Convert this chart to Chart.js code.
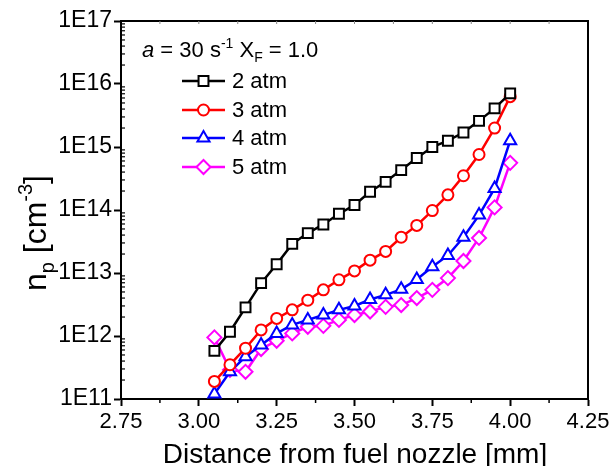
<!DOCTYPE html>
<html>
<head>
<meta charset="utf-8">
<script src="https://cdn.jsdelivr.net/npm/chart.js@4.4.1/dist/chart.umd.min.js"></script>
<style>
html,body{margin:0;padding:0;background:#fff;}
canvas{display:block;}
</style>
</head>
<body>
<canvas id="c" width="614" height="466"></canvas>
<script>
// ---- data ----
const distance = [3.05,3.10,3.15,3.20,3.25,3.30,3.35,3.40,3.45,3.50,3.55,3.60,3.65,3.70,3.75,3.80,3.85,3.90,3.95,4.00];
const np2atm = [5.8e11,1.17e12,2.85e12,6.9e12,1.38e13,2.9e13,4.3e13,5.9e13,8.7e13,1.2e14,1.95e14,2.8e14,4.3e14,6.7e14,1.0e15,1.26e15,1.7e15,2.6e15,4.1e15,7.1e15];
const np3atm = [1.9e11,3.5e11,6.4e11,1.25e12,1.9e12,2.6e12,3.7e12,5.4e12,7.8e12,1.08e13,1.6e13,2.2e13,3.7e13,5.7e13,9.8e13,1.74e14,3.5e14,7.6e14,2.0e15,6.3e15];
const np4atm = [1.2e11,2.7e11,4.7e11,7.2e11,1.1e12,1.5e12,1.8e12,2.15e12,2.6e12,3.0e12,3.8e12,4.5e12,5.5e12,7.9e12,1.26e13,1.9e13,3.7e13,8.3e13,2.2e14,1.26e15];
const np5atm = [9.5e11,2.9e11,2.7e11,6.2e11,8.4e11,1.1e12,1.4e12,1.45e12,1.8e12,2.15e12,2.45e12,2.9e12,3.1e12,4.0e12,5.4e12,8.3e12,1.55e13,3.6e13,1.1e14,5.6e14];
const seriesLabels = ['2 atm','3 atm','4 atm','5 atm'];
const xTickValues = [2.75,3.00,3.25,3.50,3.75,4.00,4.25];
const yTickExponents = [11,12,13,14,15,16,17];

const colors = ['#000000','#ff0000','#0000ff','#ff00ff'];
const styles = ['rect','circle','triangle','rectRot'];
const radii = [7,5.5,7,7];
const FONT = '"Liberation Sans", Arial, sans-serif';

function pts(arr){ return distance.map((x,i)=>({x:x,y:arr[i]})); }
const allSeries = [np2atm,np3atm,np4atm,np5atm];

const datasets = allSeries.map((s,i)=>({
  label: seriesLabels[i],
  data: pts(s),
  borderColor: colors[i],
  backgroundColor: '#ffffff',
  borderWidth: 2.5,
  pointStyle: styles[i],
  pointRadius: radii[i],
  pointBorderWidth: 2,
  pointBorderColor: colors[i],
  pointBackgroundColor: '#ffffff',
  tension: 0,
  fill: false
}));

const decor = {
  id: 'decor',
  afterDraw(chart){
    const ctx = chart.ctx;
    const a = chart.chartArea;
    const xs = chart.scales.x, ys = chart.scales.y;
    ctx.save();
    // frame top/right
    ctx.strokeStyle = '#000'; ctx.lineWidth = 2;
    ctx.beginPath();
    ctx.moveTo(a.left, a.top); ctx.lineTo(a.right, a.top); ctx.lineTo(a.right, a.bottom);
    ctx.stroke();
    // minor x ticks (outside bottom) and top inside ticks
    ctx.lineWidth = 1.5;
    for (let v = 2.875; v < 4.25; v += 0.25){
      const px = xs.getPixelForValue(v);
      ctx.beginPath(); ctx.moveTo(px, a.bottom); ctx.lineTo(px, a.bottom+4); ctx.stroke();
    }
    ctx.lineWidth = 1;
    ctx.strokeStyle = '#888';
    for (let v = 2.875; v < 4.25; v += 0.125){
      const px = xs.getPixelForValue(v);
      ctx.beginPath(); ctx.moveTo(px, a.top); ctx.lineTo(px, a.top+3); ctx.stroke();
    }
    ctx.strokeStyle = '#000';
    // minor y ticks (inside)
    ctx.lineWidth = 1.2;
    for (let e = 11; e < 17; e++){
      for (let k = 2; k <= 9; k++){
        const py = ys.getPixelForValue(k*Math.pow(10,e));
        ctx.beginPath(); ctx.moveTo(a.left, py); ctx.lineTo(a.left+4, py); ctx.stroke();
      }
    }
    // x title
    ctx.fillStyle = '#000';
    ctx.font = '28px ' + FONT;
    ctx.textAlign = 'center'; ctx.textBaseline = 'alphabetic';
    ctx.fillText('Distance from fuel nozzle [mm]', (a.left+a.right)/2 + 0.5, 463);
    // y title: n_p [cm^-3]
    ctx.save();
    ctx.translate(46, 233);
    ctx.rotate(-Math.PI/2);
    const big = '32px ' + FONT, small = '20px ' + FONT;
    const parts = [
      {t:'n', f:big, dy:0},
      {t:'p', f:small, dy:8},
      {t:' [cm', f:big, dy:0},
      {t:'-3', f:small, dy:-14},
      {t:']', f:big, dy:0}
    ];
    let w = 0;
    parts.forEach(p=>{ ctx.font = p.f; p.w = ctx.measureText(p.t).width; w += p.w; });
    let x0 = -w/2;
    ctx.textAlign = 'left';
    parts.forEach(p=>{ ctx.font = p.f; ctx.fillText(p.t, x0, p.dy); x0 += p.w; });
    ctx.restore();
    // annotation: a = 30 s^-1 X_F = 1.0
    const ann = [
      {t:'a', f:'italic 22px ' + FONT, dy:0},
      {t:' = 30 s', f:'22px ' + FONT, dy:0},
      {t:'-1', f:'14px ' + FONT, dy:-9},
      {t:' X', f:'22px ' + FONT, dy:0},
      {t:'F', f:'14px ' + FONT, dy:5},
      {t:' = 1.0', f:'22px ' + FONT, dy:0}
    ];
    let ax = 142;
    ctx.textAlign = 'left';
    ann.forEach(p=>{ ctx.font = p.f; ctx.fillText(p.t, ax, 57 + p.dy); ax += ctx.measureText(p.t).width; });
    // legend
    const rows = [81,110,138,167];
    rows.forEach((ry,i)=>{
      ctx.strokeStyle = colors[i]; ctx.lineWidth = 2.5;
      ctx.beginPath(); ctx.moveTo(182, ry); ctx.lineTo(225, ry); ctx.stroke();
      ctx.fillStyle = '#fff'; ctx.strokeStyle = colors[i]; ctx.lineWidth = 2;
      Chart.helpers.drawPoint(ctx, {pointStyle: styles[i], radius: radii[i], rotation: 0, borderWidth: 2}, 203.5, ry);
      ctx.fillStyle = '#000'; ctx.font = '22px ' + FONT; ctx.textBaseline = 'middle';
      ctx.fillText(seriesLabels[i], 232, ry + 1);
      ctx.textBaseline = 'alphabetic';
    });
    ctx.restore();
  }
};

new Chart(document.getElementById('c'), {
  type: 'line',
  data: { datasets: datasets },
  options: {
    responsive: false,
    animation: false,
    events: [],
    layout: { padding: { top: 21, right: 26, left: 0, bottom: 0 } },
    plugins: { legend: { display: false }, tooltip: { enabled: false } },
    scales: {
      x: {
        type: 'linear', min: 2.75, max: 4.25,
        afterBuildTicks: s => { s.ticks = xTickValues.map(v=>({value:v})); },
        afterFit: s => { s.height = 67; },
        ticks: { callback: v => Number(v).toFixed(2), color: '#000', font: { family: FONT, size: 22 }, padding: 3, maxRotation: 0, autoSkip: false },
        grid: { drawOnChartArea: false, drawTicks: true, tickLength: 7, tickWidth: 2, tickColor: '#000' },
        border: { display: true, color: '#000', width: 2 }
      },
      y: {
        type: 'logarithmic', min: 1e11, max: 1e17,
        afterBuildTicks: s => { s.ticks = yTickExponents.map(e=>({value:Math.pow(10,e)})); },
        afterFit: s => { s.width = 121; },
        ticks: { callback: v => '1E' + Math.round(Math.log10(v)), color: '#000', font: { family: FONT, size: 23 }, padding: 2, autoSkip: false },
        grid: { drawOnChartArea: false, drawTicks: true, tickLength: 7, tickWidth: 2, tickColor: '#000' },
        border: { display: true, color: '#000', width: 2 }
      }
    }
  },
  plugins: [decor]
});
</script>
</body>
</html>
